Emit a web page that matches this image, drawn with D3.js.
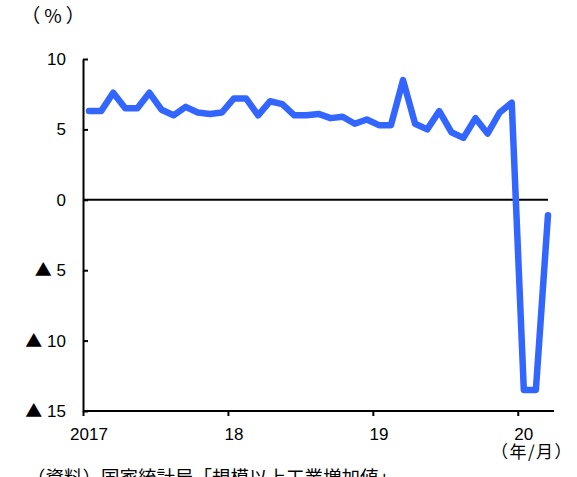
<!DOCTYPE html>
<html>
<head>
<meta charset="utf-8">
<script src="https://cdn.jsdelivr.net/npm/d3@7"></script>
<style>
  html, body { margin: 0; padding: 0; background: #fff; }
  svg { display: block; }
  text { fill: #000; }
</style>
</head>
<body>
<svg id="chart" width="577" height="477"></svg>
<script>
// Industrial value added, year-on-year growth (%), monthly Jan 2017 – Mar 2020
const months = [
  "2017-01","2017-02","2017-03","2017-04","2017-05","2017-06","2017-07","2017-08","2017-09","2017-10","2017-11","2017-12",
  "2018-01","2018-02","2018-03","2018-04","2018-05","2018-06","2018-07","2018-08","2018-09","2018-10","2018-11","2018-12",
  "2019-01","2019-02","2019-03","2019-04","2019-05","2019-06","2019-07","2019-08","2019-09","2019-10","2019-11","2019-12",
  "2020-01","2020-02","2020-03"
];
const growth = [
  6.3, 6.3, 7.6, 6.5, 6.5, 7.6, 6.4, 6.0, 6.6, 6.2, 6.1, 6.2,
  7.2, 7.2, 6.0, 7.0, 6.8, 6.0, 6.0, 6.1, 5.8, 5.9, 5.4, 5.7,
  5.3, 5.3, 8.5, 5.4, 5.0, 6.3, 4.8, 4.4, 5.8, 4.7, 6.2, 6.9,
  -13.5, -13.5, -1.1
];
const yTicks = [10, 5, 0, -5, -10, -15];
const yearTickIndex = [0, 12, 24, 36];
const yearLabels = ["2017", "18", "19", "20"];

const svg = d3.select("#chart");
const latin = "'Liberation Sans', Arial, 'Noto Sans CJK JP', sans-serif";
const cjk = "'Noto Sans CJK JP', sans-serif";

const x = d3.scaleLinear().domain([0, months.length]).range([83, 554]);
const y = d3.scaleLinear().domain([-15, 10]).range([411, 59]);

// y axis with inward ticks; negatives shown with a triangle
const yAxis = d3.axisLeft(y)
  .tickValues(yTicks)
  .tickSizeInner(-5)
  .tickSizeOuter(0)
  .tickPadding(17)
  .tickFormat("");

const gy = svg.append("g").attr("transform", `translate(${x(0)},0)`).call(yAxis);
gy.select(".domain").attr("stroke", "#000").attr("stroke-width", 2);
gy.selectAll(".tick line").attr("stroke", "#000").attr("stroke-width", 2);
gy.selectAll(".tick text").each(function(d) {
  const t = d3.select(this)
    .attr("font-family", latin)
    .attr("font-size", 17)
    .attr("fill", "#000");
  if (d < 0) {
    t.append("tspan").attr("font-family", cjk).attr("font-size", 17).text("▲");
    t.append("tspan").text(" " + (-d));
  } else {
    t.text(String(d));
  }
});

// x axis: ticks at year boundaries
const xAxis = d3.axisBottom(x)
  .tickValues(yearTickIndex)
  .tickSizeInner(5)
  .tickSizeOuter(0)
  .tickFormat("");
const gx = svg.append("g").attr("transform", `translate(0,${y(-15)})`).call(xAxis);
gx.select(".domain").attr("stroke", "#000").attr("stroke-width", 2)
  .attr("d", `M${x(0)},0H${x(months.length)}`);
gx.selectAll(".tick line").attr("stroke", "#000").attr("stroke-width", 2);

// year labels centred on January of each year
svg.append("g").selectAll("text")
  .data(yearTickIndex)
  .join("text")
  .attr("x", d => x(d + 0.5))
  .attr("y", y(-15) + 29)
  .attr("text-anchor", "middle")
  .attr("font-family", latin)
  .attr("font-size", 17)
  .text((d, i) => yearLabels[i]);

// zero reference line
svg.append("line")
  .attr("x1", x(0)).attr("x2", x(months.length - 0.5))
  .attr("y1", y(0)).attr("y2", y(0))
  .attr("stroke", "#000").attr("stroke-width", 2);

// growth line
const line = d3.line()
  .x((d, i) => x(i + 0.5))
  .y(d => y(d));

svg.append("path")
  .datum(growth)
  .attr("d", line)
  .attr("fill", "none")
  .attr("stroke", "#3366ff")
  .attr("stroke-width", 6.5)
  .attr("stroke-linejoin", "round")
  .attr("stroke-linecap", "round");

// unit labels and source
svg.append("text")
  .attr("x", 55).attr("y", 23)
  .attr("text-anchor", "middle")
  .attr("font-family", cjk)
  .attr("font-size", 19)
  .attr("letter-spacing", 4)
  .text("（%）");

svg.append("text")
  .attr("x", 532).attr("y", 458)
  .attr("text-anchor", "middle")
  .attr("font-family", cjk)
  .attr("font-size", 17)
  .attr("letter-spacing", 1.5)
  .text("（年/月）");

svg.append("text")
  .attr("x", 27).attr("y", 484)
  .attr("font-family", cjk)
  .attr("font-size", 18.5)
  .text("（資料）国家統計局「規模以上工業増加値」");
</script>
</body>
</html>
